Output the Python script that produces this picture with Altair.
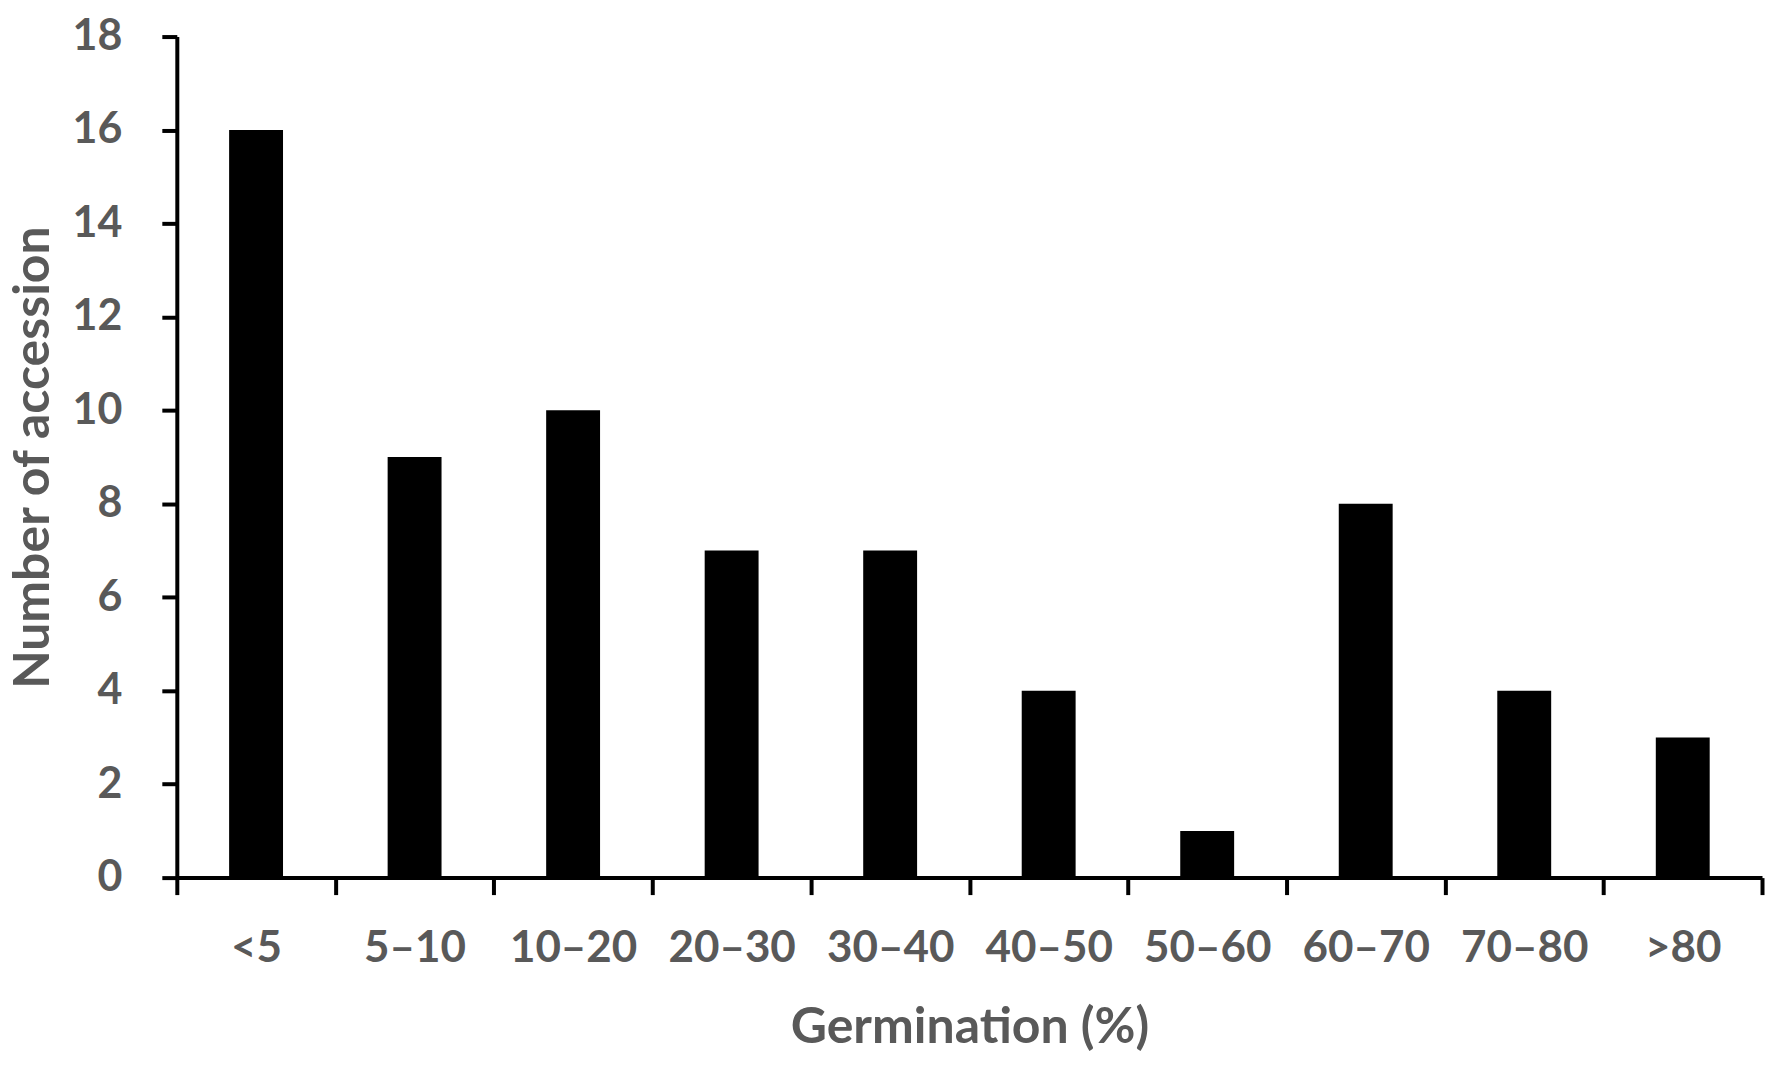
import altair as alt
import pandas as pd

categories = ["<5", "5–10", "10–20", "20–30", "30–40", "40–50", "50–60", "60–70", "70–80", ">80"]
counts = [16, 9, 10, 7, 7, 4, 1, 8, 4, 3]
y_ticks = [0, 2, 4, 6, 8, 10, 12, 14, 16, 18]

df = pd.DataFrame({"cat": categories, "n": counts})

grey = "#595959"
font = "Lato"

chart = alt.Chart(df).mark_bar(color="black", width={"band": 0.34}).encode(
    x=alt.X("cat:N", sort=categories,
            scale=alt.Scale(paddingInner=0, paddingOuter=0),
            axis=alt.Axis(title="Germination (%)", labelAngle=0, tickBand="extent",
                          domainColor="black", domainWidth=4, tickColor="black",
                          tickWidth=4, tickSize=17, labelPadding=32,
                          labelFont=font, labelFontSize=44, labelFontWeight="bold",
                          labelColor=grey, titleFont=font, titleFontSize=50,
                          titleFontWeight="bold", titleColor=grey, titlePadding=32)),
    y=alt.Y("n:Q", scale=alt.Scale(domain=[0, 18], nice=False),
            axis=alt.Axis(title="Number of accession", values=y_ticks, grid=False,
                          domainColor="black", domainWidth=4, tickColor="black",
                          tickWidth=4, tickSize=15, labelPadding=40,
                          labelFont=font, labelFontSize=43, labelFontWeight="bold",
                          labelColor=grey, titleFont=font, titleFontSize=50,
                          titleFontWeight="bold", titleColor=grey, titlePadding=14)),
).properties(
    width=1587, height=842,
    autosize=alt.AutoSizeParams(type="none"),
    padding={"left": 169, "top": 28, "right": 10, "bottom": 180},
).configure_view(stroke=None).configure_axis(grid=False)

chart.save("out.html", embed_options={"renderer": "svg", "actions": False})
